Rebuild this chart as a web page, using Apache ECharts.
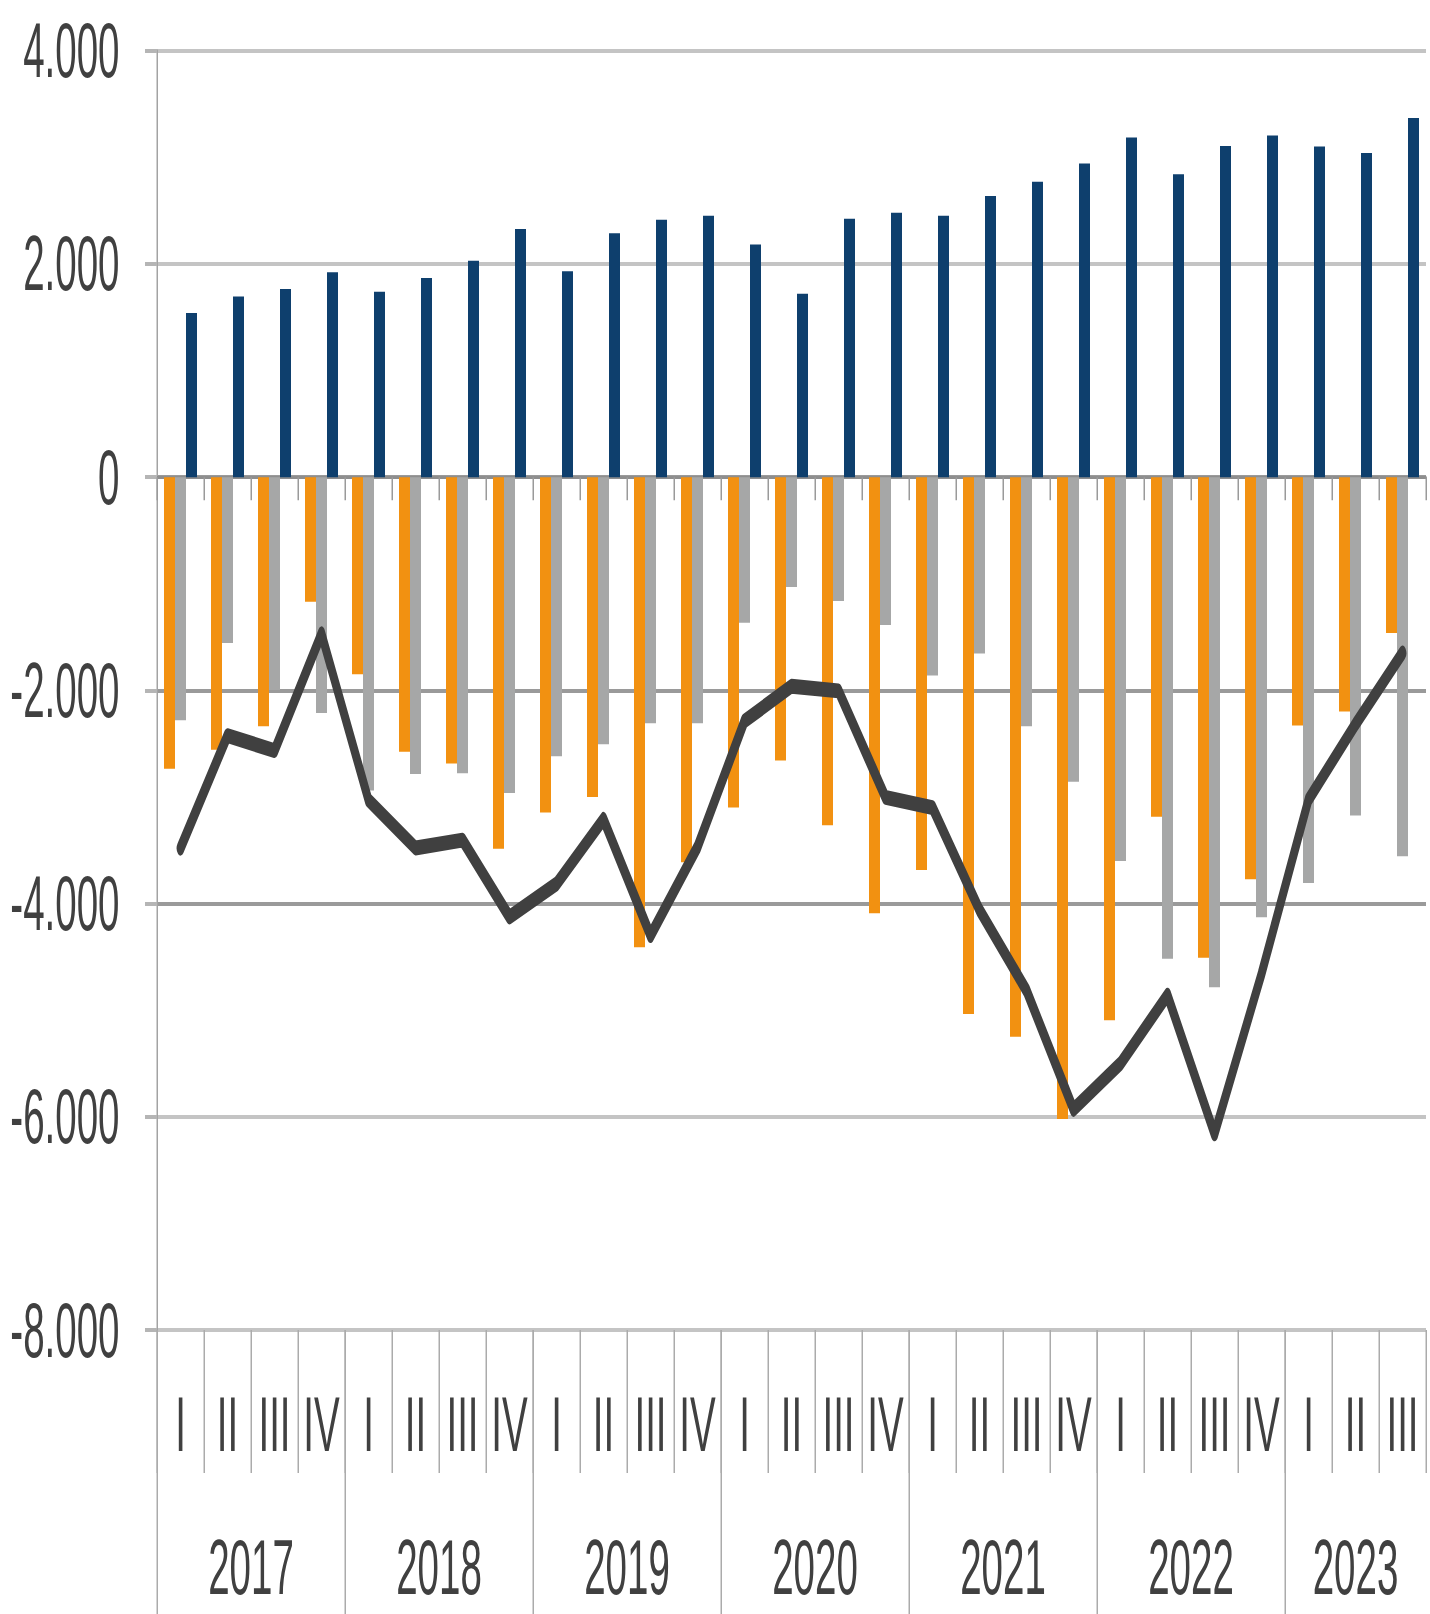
<!DOCTYPE html>
<html><head><meta charset="utf-8">
<script src="https://cdn.jsdelivr.net/npm/echarts@6/dist/echarts.min.js"></script>
<style>
html,body{margin:0;padding:0;overflow:hidden;background:#fff;width:1430px;height:1614px}
#wrap{width:1430px;height:1614px;overflow:hidden;position:relative}
#chart{width:2860px;height:1614px;transform:scaleX(0.5);transform-origin:0 0;position:absolute;left:0;top:0}
</style></head><body>
<div id="wrap"><div id="chart"></div></div>
<script>
// ---- data ----
const quarters = ['I','II','III','IV','I','II','III','IV','I','II','III','IV','I','II','III','IV','I','II','III','IV','I','II','III','IV','I','II','III'];
const years = ['2017','2018','2019','2020','2021','2022','2023'];
const quartersPerYear = [4,4,4,4,4,4,3];
const blueValues = [1540,1695,1765,1922,1740,1867,2030,2327,1931,2288,2414,2452,2182,1719,2423,2481,2452,2636,2770,2942,3185,2840,3106,3205,3102,3040,3368];
const orangeValues = [-2736,-2558,-2336,-1170,-1850,-2575,-2685,-3486,-3146,-3000,-4410,-3612,-3100,-2657,-3266,-4092,-3686,-5035,-5250,-6020,-5095,-3185,-4508,-3772,-2330,-2199,-1462];
const grayValues = [-2280,-1556,-1997,-2213,-2940,-2784,-2777,-2964,-2617,-2506,-2308,-2308,-1366,-1031,-1163,-1388,-1860,-1655,-2337,-2858,-3600,-4518,-4786,-4128,-3806,-3175,-3555];
const lineValues = [-3480,-2425,-2565,-1470,-3030,-3478,-3405,-4125,-3815,-3210,-4300,-3470,-2288,-1962,-2005,-3004,-3100,-4060,-4815,-5930,-5500,-4860,-6160,-4660,-3025,-2318,-1650];
const yMin = -8000, yMax = 4000, yStep = 2000;

// year boundaries and label centres derived from quartersPerYear
const yearStarts = [];
const yearCenters = [];
let acc = 0;
quartersPerYear.forEach(n => { yearStarts.push(acc); yearCenters.push(acc + n / 2); acc += n; });

function fmtThousands(v) {
  const s = Math.abs(v).toString().replace(/\B(?=(\d{3})+(?!\d))/g, '.');
  return (v < 0 ? '-' : '') + s;
}

const FONT = 'Liberation Sans, Arial, Helvetica, sans-serif';
const TEXT = '#404040';

const chart = echarts.init(document.getElementById('chart'), null, {renderer: 'svg'});
chart.setOption({
  animation: false,
  backgroundColor: '#fff',
  grid: {left: 314, right: 8, top: 50.7, bottom: 284, containLabel: false},
  xAxis: [
    { // zero line axis
      type: 'category', data: quarters, position: 'bottom', gridIndex: 0,
      axisLine: {show: true, onZero: true, lineStyle: {color: '#8e8e8e', width: 3}},
      axisTick: {show: true, interval: 0, length: 23, lineStyle: {color: '#9a9a9a', width: 3}},
      axisLabel: {show: false}, splitLine: {show: false}
    },
    { // quarter labels
      type: 'category', data: quarters, position: 'bottom', gridIndex: 0,
      axisLine: {show: false, onZero: false},
      axisTick: {show: true, interval: 0, length: 143, lineStyle: {color: '#ababab', width: 3}},
      axisLabel: {show: true, interval: 0, fontSize: 77, lineHeight: 77, fontFamily: FONT, color: TEXT, margin: 56},
      splitLine: {show: false}
    },
    { // year labels
      type: 'value', min: 0, max: quarters.length, position: 'bottom', gridIndex: 0,
      axisLine: {show: false, onZero: false},
      axisTick: {show: true, customValues: yearStarts, length: 290, lineStyle: {color: '#ababab', width: 3}},
      axisLabel: {show: true, customValues: yearCenters, fontSize: 77, lineHeight: 77, fontFamily: FONT, color: TEXT, margin: 199,
        formatter: v => { const i = yearCenters.findIndex(c => Math.abs(c - v) < 1e-6); return i >= 0 ? years[i] : ''; }},
      splitLine: {show: false}
    }
  ],
  yAxis: {
    type: 'value', min: yMin, max: yMax, interval: yStep,
    axisLine: {show: true, lineStyle: {color: '#a3a3a3', width: 3}},
    axisTick: {show: true, length: 24, lineStyle: {color: '#b5b5b5', width: 4}},
    axisLabel: {fontSize: 77, fontFamily: FONT, color: TEXT, margin: 75, formatter: fmtThousands},
    splitLine: {show: true, lineStyle: {width: 4, color: ['#c4c4c4','#c4c4c4','#9a9a9a','#9a9a9a','#9a9a9a','#c4c4c4','#c4c4c4']}}
  },
  series: [
    {type: 'bar', data: orangeValues, barWidth: 22, barGap: '0%', itemStyle: {color: '#F29111'}},
    {type: 'bar', data: grayValues, barWidth: 22, barGap: '0%', itemStyle: {color: '#A6A7A7'}},
    {type: 'bar', data: blueValues, barWidth: 22, barGap: '0%', itemStyle: {color: '#0E3F6D'}},
    {type: 'line', data: lineValues, symbol: 'none', z: 5,
      lineStyle: {color: '#404040', width: 15, join: 'round', cap: 'round'}}
  ]
});
</script></body></html>
